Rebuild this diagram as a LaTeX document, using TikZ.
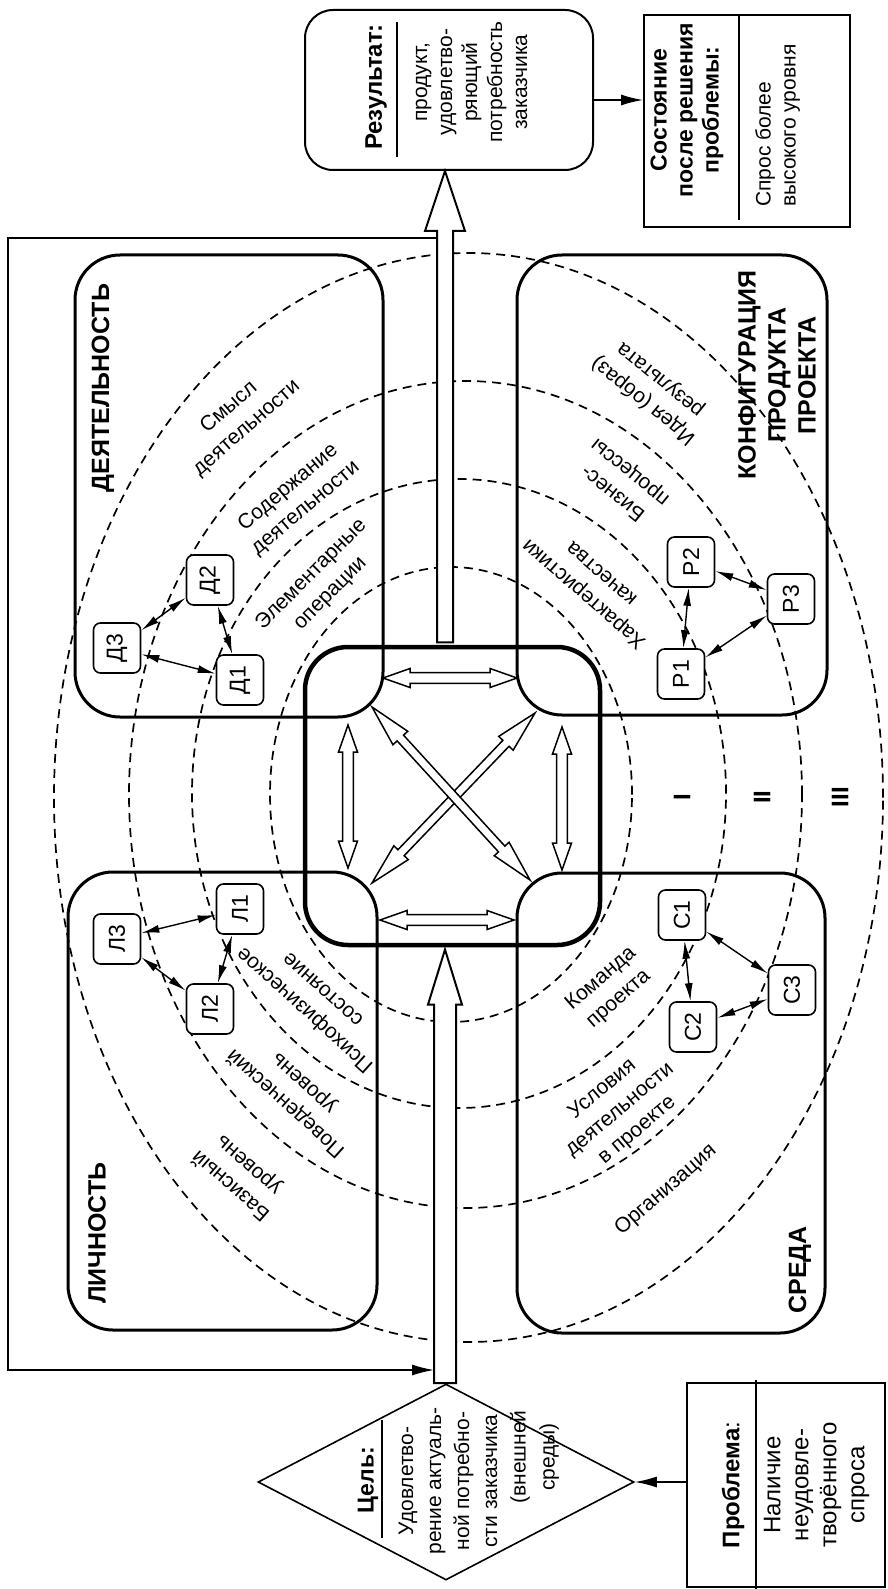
\documentclass[tikz,border=0pt]{standalone}
\usepackage{fontspec}
\setmainfont{Liberation Sans}
\usetikzlibrary{calc,arrows.meta,shapes.geometric}
\newcommand\fsz[2]{\fontsize{#1}{#2}\selectfont}
% single block arrow: [style]{tail}{tip}{shaft half}{head length}{head half}
\newcommand\blocksgl[6][blockarrow]{%
  \draw[#1] let \p1=(#2), \p2=(#3), \n1={atan2((\y2)-(\y1),(\x2)-(\x1))},
    \n2={\n1+90}, \n3={\n1-90}, \n4={\n1+180} in
   ($(\p1)+(\n2:#4pt)$) -- ($(\p2)+(\n4:#5pt)+(\n2:#4pt)$) -- ($(\p2)+(\n4:#5pt)+(\n2:#6pt)$) -- (\p2)
   -- ($(\p2)+(\n4:#5pt)+(\n3:#6pt)$) -- ($(\p2)+(\n4:#5pt)+(\n3:#4pt)$) -- ($(\p1)+(\n3:#4pt)$) -- cycle;}
% double block arrow
\newcommand\blockdbl[6][blockarrow]{%
  \draw[#1] let \p1=(#2), \p2=(#3), \n1={atan2((\y2)-(\y1),(\x2)-(\x1))},
    \n2={\n1+90}, \n3={\n1-90}, \n4={\n1+180} in
   (\p1) -- ($(\p1)+(\n1:#5pt)+(\n2:#6pt)$) -- ($(\p1)+(\n1:#5pt)+(\n2:#4pt)$)
   -- ($(\p2)+(\n4:#5pt)+(\n2:#4pt)$) -- ($(\p2)+(\n4:#5pt)+(\n2:#6pt)$)
   -- (\p2) -- ($(\p2)+(\n4:#5pt)+(\n3:#6pt)$) -- ($(\p2)+(\n4:#5pt)+(\n3:#4pt)$)
   -- ($(\p1)+(\n1:#5pt)+(\n3:#4pt)$) -- ($(\p1)+(\n1:#5pt)+(\n3:#6pt)$) -- cycle;}
\begin{document}
\begin{tikzpicture}[x=1pt,y=-1pt,
  qbox/.style={draw, line width=3pt, rounded corners=45pt, inner sep=0pt},
  ringline/.style={line width=1.7pt, dash pattern=on 9pt off 6pt},
  blockarrow/.style={draw, fill=white, line width=1.5pt, line join=miter},
  bigarrow/.style={draw, fill=white, line width=2pt, line join=miter},
  rlabel/.style={font=\fsz{21}{27}, align=center, inner sep=0pt},
  capslbl/.style={font=\fsz{25}{30}\bfseries, align=center, inner sep=0pt, rotate=90},
  titletxt/.style={font=\fsz{24}{28}\bfseries, align=center, inner sep=0pt, rotate=90},
  bodytxt/.style={font=\fsz{21}{25}, align=center, inner sep=0pt, rotate=90},
  smallbox/.style={draw, fill=white, line width=1.6pt, rounded corners=7pt, minimum width=50pt,
    minimum height=47pt, inner sep=0pt, rotate=90, font=\fsz{23}{23}},
  linkar/.style={line width=1.4pt, {Latex[length=18pt,width=8pt]}-{Latex[length=18pt,width=8pt]}},
  flowar/.style={line width=1.5pt, -{Latex[length=22pt,width=11pt]}},
  romnum/.style={font=\fsz{24}{24}\bfseries, inner sep=0pt, rotate=90}
]
\useasboundingbox (0,0) rectangle (887,1589);

% dashed rings
\draw[ringline] (451,794.5) ellipse [x radius=181pt, y radius=227.5pt];
\draw[ringline] (459,793.5) ellipse [x radius=267pt, y radius=314.5pt];
\draw[ringline] (465.5,794.5) ellipse [x radius=336.5pt, y radius=413.5pt];
\draw[ringline] (468.5,797.5) ellipse [x radius=414.5pt, y radius=544.5pt];

% quadrant boxes
\node[qbox, minimum width=308pt, minimum height=462pt] (act) at (229,486) {};
\node[qbox, minimum width=310pt, minimum height=460pt] (conf) at (672,485) {};
\node[qbox, minimum width=309pt, minimum height=458pt] (pers) at (222.5,1101) {};
\node[qbox, minimum width=308pt, minimum height=460pt] (env) at (671,1103) {};

% top / bottom boxes
\node[draw, line width=2pt, rounded corners=28pt, minimum width=288pt, minimum height=160pt] (res) at (449,90) {};
\node[draw, line width=2pt, minimum width=206pt, minimum height=212pt] (state) at (747,121) {};
\node[draw, line width=2pt, minimum width=198pt, minimum height=204pt] (prob) at (786,1485) {};
\node[draw, diamond, line width=1.6pt, minimum width=376pt, minimum height=196pt, inner sep=0pt, aspect=1.92] (goal) at (446,1482) {};

% feedback line
\coordinate (fbA) at (445,238);
\coordinate (fbB) at (8,238);
\coordinate (fbC) at (8,1370);
\coordinate (fbD) at (434,1370);
\draw[line width=1.5pt, -{Latex[length=22pt,width=11pt]}] (fbA) -- (fbB) -- (fbC) -- (fbD);

% centre square
\node[draw, line width=4.5pt, rounded corners=43pt, minimum width=295pt, minimum height=298pt] (core) at (452.5,796) {};

% big arrows
\coordinate (ax) at (445,0);
\blocksgl[bigarrow]{$(ax |- core.north)+(0,-2.3)$}{ax |- res.south}{8}{60}{20}
\blocksgl[bigarrow]{ax |- goal.north}{$(ax |- core.south)+(0,2.3)$}{11}{55}{17}

% arrows between the boxes
\coordinate (ry) at (0,100);
\draw[flowar] (res.east |- ry) -- (state.west |- ry);
\draw[flowar] (prob.west |- goal.east) -- (goal.east);

% centre block arrows
\coordinate (hT1) at (383,678); \coordinate (hT2) at (517,678);
\coordinate (hB1) at (380,920); \coordinate (hB2) at (514,920);
\coordinate (vL1) at (348,725); \coordinate (vL2) at (348,868);
\coordinate (vR1) at (562,727); \coordinate (vR2) at (562,870);
\coordinate (dA1) at (372,707); \coordinate (dA2) at (530,880);
\coordinate (dB1) at (535,713); \coordinate (dB2) at (372,883);
\blockdbl{hT1}{hT2}{5.3}{27}{9.5}
\blockdbl{hB1}{hB2}{5.3}{27}{9.5}
\blockdbl{vL1}{vL2}{5.3}{27}{9.5}
\blockdbl{vR1}{vR2}{5.3}{27}{9.5}
\blockdbl{dB1}{dB2}{4.3}{42}{10}
\blockdbl{dA1}{dA2}{4.3}{42}{10}

% small element boxes
\node[smallbox] (d1) at (240,680) {Д1};
\node[smallbox] (d2) at (210,580) {Д2};
\node[smallbox] (d3) at (117,648) {Д3};
\node[smallbox] (l1) at (240,909) {Л1};
\node[smallbox] (l2) at (210,1009) {Л2};
\node[smallbox] (l3) at (117,939) {Л3};
\node[smallbox] (p1) at (681,674) {Р1};
\node[smallbox] (p2) at (691,562) {Р2};
\node[smallbox] (p3) at (791,599) {Р3};
\node[smallbox] (c1) at (682,915) {С1};
\node[smallbox] (c2) at (693,1027) {С2};
\node[smallbox] (c3) at (792,990) {С3};
\draw[linkar] (d3) -- (d1); \draw[linkar] (d3) -- (d2); \draw[linkar] (d2) -- (d1);
\draw[linkar] (l3) -- (l1); \draw[linkar] (l3) -- (l2); \draw[linkar] (l1) -- (l2);
\draw[linkar] (p1) -- (p2); \draw[linkar] (p2) -- (p3); \draw[linkar] (p1) -- (p3);
\draw[linkar] (c1) -- (c2); \draw[linkar] (c1) -- (c3); \draw[linkar] (c2) -- (c3);

% quadrant titles
\node[capslbl] (tAct) at (103,388) {ДЕЯТЕЛЬНОСТЬ};
\node[capslbl] (tConf) at (777,375) {КОНФИГУРАЦИЯ\\ПРОДУКТА\\ПРОЕКТА};
\node[capslbl] (tPers) at (97,1233) {ЛИЧНОСТЬ};
\node[capslbl] (tEnv) at (800,1270) {СРЕДА};

% ring labels
\node[rlabel, rotate=41] at (238,418) {Смысл\\деятельности};
\node[rlabel, rotate=40] at (297,498) {Содержание\\деятельности};
\node[rlabel, rotate=45] at (321,584) {Элементарные\\операции};
\node[rlabel, rotate=141] at (652,390) {Идея (образ)\\результата};
\node[rlabel, rotate=141] at (622,482) {Бизнес-\\процессы};
\node[rlabel, rotate=139] at (592,585) {Характеристики\\качества};
\node[rlabel, rotate=138] at (313,1001) {Психофизическое\\состояние};
\node[rlabel, rotate=138] at (295,1093) {Поведенческий\\уровень};
\node[rlabel, rotate=139] at (240,1175) {Базисный\\уровень};
\node[rlabel, rotate=41] at (610,989) {Команда\\проекта};
\node[rlabel, rotate=40] at (620,1110) {Условия\\деятельности\\в проекте};
\node[rlabel, rotate=41] at (666,1190) {Организация};

% ring numbers
\node[romnum] at (682,797) {I};
\node[romnum] at (762,797) {II};
\node[romnum] at (840,797) {III};

% result box text
\node[titletxt] at (376,87) {Результат:};
\draw[line width=1.5pt] (397,22) -- (397,157);
\node[bodytxt] at (471.5,82) {продукт,\\удовлетво-\\ряющий\\потребность\\заказчика};

% state box text
\node[titletxt, font=\fsz{23}{26}\bfseries] at (687,110) {Состояние\\после решения\\проблемы:};
\draw[line width=1.5pt] (739,14) -- (739,220);
\node[bodytxt, align=left, anchor=west] at (777.5,207) {Спрос более\\высокого уровня};

% goal text
\node[titletxt, font=\fsz{23}{28}\bfseries] at (368,1480) {Цель:};
\draw[line width=1.5pt] (382,1420) -- (382,1538);
\node[bodytxt, font=\fsz{21}{28}] at (448,1481) {Удовлетво-\\рение актуаль-\\ной потребно-\\сти заказчика};
\node[bodytxt, font=\fsz{21}{29}] at (534.5,1457) {(внешней\\среды)};

% problem text
\node[titletxt] at (733,1485) {Проблема\textmd{:}};
\draw[line width=2pt] (756,1380) -- (756,1589);
\node[bodytxt, font=\fsz{24}{28}] at (816.5,1485) {Наличие\\неудовле-\\творённого\\спроса};
\end{tikzpicture}
\end{document}
